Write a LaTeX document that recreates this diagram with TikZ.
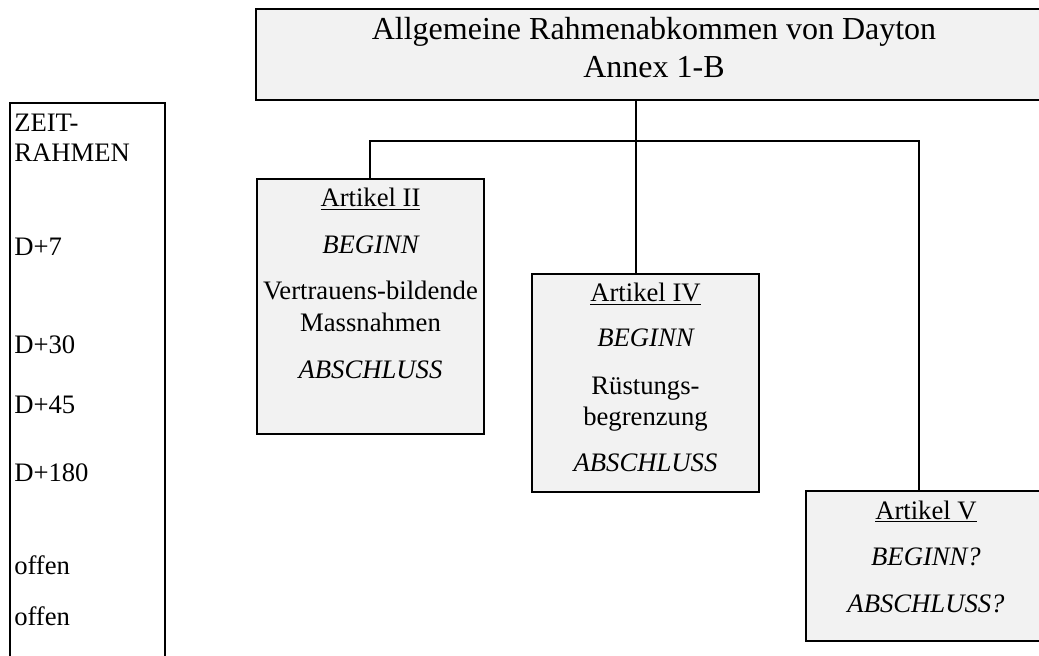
\documentclass[tikz,border=0pt]{standalone}
\usepackage{fontspec}
\setmainfont{Liberation Serif}
\usepackage{tikz}
\definecolor{boxgray}{HTML}{F2F2F2}
\tikzset{
    txt/.style={font=\fontsize{20}{24}\selectfont, inner sep=0pt},
    lbl/.style={txt, anchor=base west},
    mid/.style={txt, anchor=base},
    frame/.style={draw, line width=1.8pt, inner sep=0pt},
    artbox/.style={frame, fill=boxgray},
    link/.style={line width=1.5pt},
}

\begin{document}
\begin{tikzpicture}[x=0.75pt, y=-0.75pt]
        %fix the page size
        \clip (0, 0) rectangle (1039, 656);
        %draw the boxes
        \node[artbox, minimum width=597pt, minimum height=68.25pt] (title) at (654, 54.5) {};
        \node[frame, minimum width=116.25pt, minimum height=450pt] (zeit) at (87.5, 403) {};
        \node[artbox, minimum width=170.25pt, minimum height=191.25pt] (art2) at (370.5, 306.5) {};
        \node[artbox, minimum width=170.25pt, minimum height=163.5pt] (art4) at (645.5, 383) {};
        \node[artbox, minimum width=180pt, minimum height=112.5pt] (art5) at (926, 566) {};
        %draw connectors
        \coordinate (jn) at (636, 141);
        \draw[link] (title.south -| jn) -- (art4.north -| jn);
        \draw[link] ([xshift=-0.4pt]art2.north) |- (jn) -| ([xshift=-5.25pt]art5.north);
        %label title box
        \node[mid, font=\fontsize{24}{28}\selectfont] (tl1) at (654, 40) {Allgemeine Rahmenabkommen von Dayton};
        \node[mid, font=\fontsize{24}{28}\selectfont] (tl2) at (654, 77.7) {Annex 1-B};
        %label time frame
        \node[lbl] (z1) at (14, 131.7) {ZEIT-};
        \node[lbl] (z2) at (14, 161.7) {RAHMEN};
        \node[lbl] (z3) at (14, 255) {D+7};
        \node[lbl] (z4) at (14, 353) {D+30};
        \node[lbl] (z5) at (14, 413) {D+45};
        \node[lbl] (z6) at (14, 481.7) {D+180};
        \node[lbl] (z7) at (14, 574) {offen};
        \node[lbl] (z8) at (14, 625) {offen};
        %label article II
        \node[mid] (a2head) at (370.5, 206.7) {\underline{Artikel II}};
        \node[mid] (a2beg) at (370.5, 253) {\itshape BEGINN};
        \node[mid] (a2t1) at (370.5, 299) {Vertrauens-bildende};
        \node[mid] (a2t2) at (370.5, 331) {Massnahmen};
        \node[mid] (a2end) at (370.5, 378) {\itshape ABSCHLUSS};
        %label article IV
        \node[mid] (a4head) at (645.5, 301.7) {\underline{Artikel IV}};
        \node[mid] (a4beg) at (645.5, 346.7) {\itshape BEGINN};
        \node[mid] (a4t1) at (645.5, 394) {Rüstungs-};
        \node[mid] (a4t2) at (645.5, 425) {begrenzung};
        \node[mid] (a4end) at (645.5, 471.7) {\itshape ABSCHLUSS};
        %label article V
        \node[mid] (a5head) at (926, 519) {\underline{Artikel V}};
        \node[mid] (a5beg) at (926, 565) {\itshape BEGINN?};
        \node[mid] (a5end) at (926, 612) {\itshape ABSCHLUSS?};
    \end{tikzpicture}
\end{document}
